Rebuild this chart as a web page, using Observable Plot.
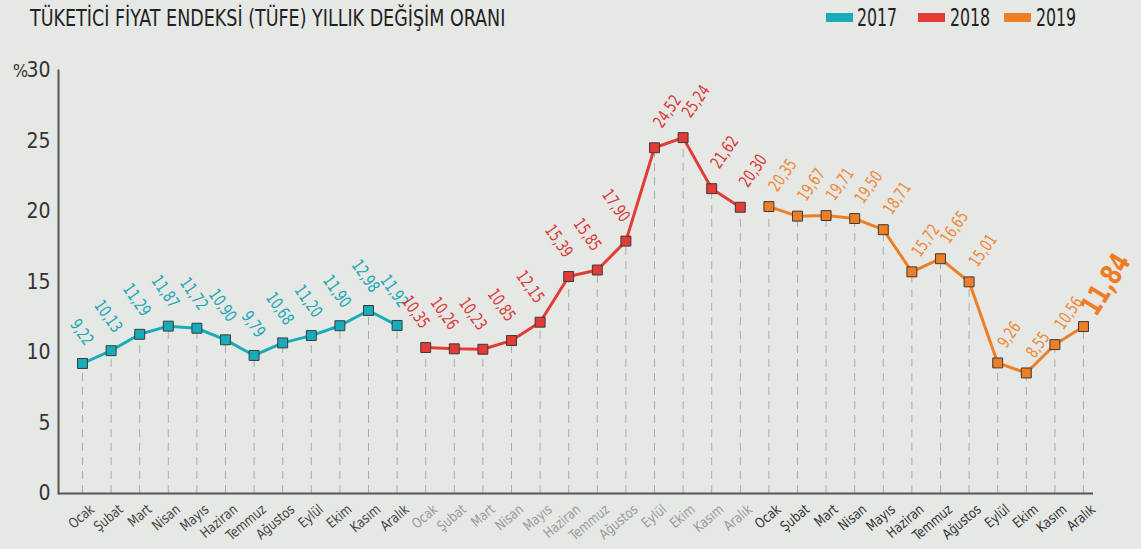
<!DOCTYPE html>
<html>
<head>
<meta charset="utf-8">
<script src="https://cdn.jsdelivr.net/npm/d3@7"></script>
<script src="https://cdn.jsdelivr.net/npm/@observablehq/plot@0.6"></script>
<style>
  html, body { margin: 0; padding: 0; background: #e6e8e6; }
  body { width: 1141px; height: 549px; overflow: hidden; font-family: "Liberation Sans Narrow", "DejaVu Sans Condensed", "Roboto", sans-serif; }
  #header { position: relative; height: 40px; }
  #title { position: absolute; left: 30px; top: 5px; font-size: 23px; color: #222; white-space: nowrap; transform-origin: 0 0; }
  .sw { position: absolute; top: 13px; width: 27px; height: 9px; }
  .lt { position: absolute; top: 3px; font-size: 25px; color: #222; white-space: nowrap; transform-origin: 0 0; }
  svg { display: block; }
</style>
</head>
<body>
<div id="header">
  <div id="title">TÜKETİCİ FİYAT ENDEKSİ (TÜFE) YILLIK DEĞİŞİM ORANI</div>
</div>
<div id="chart"></div>
<script>
const years = [2017, 2018, 2019];
const months = ["Ocak", "Şubat", "Mart", "Nisan", "Mayıs", "Haziran", "Temmuz", "Ağustos", "Eylül", "Ekim", "Kasım", "Aralık"];
const v2017 = [9.22, 10.13, 11.29, 11.87, 11.72, 10.90, 9.79, 10.68, 11.20, 11.90, 12.98, 11.92];
const v2018 = [10.35, 10.26, 10.23, 10.85, 12.15, 15.39, 15.85, 17.90, 24.52, 25.24, 21.62, 20.30];
const v2019 = [20.35, 19.67, 19.71, 19.50, 18.71, 15.72, 16.65, 15.01, 9.26, 8.55, 10.56, 11.84];
const yTicks = [0, 5, 10, 15, 20, 25, 30];

const lineColors = ["#1aabbb", "#e33b36", "#ee7f24"];
const labelColors = ["#20a6b5", "#db3a37", "#f0883a"];
const monthColors = ["#444", "#9a9a9a", "#333"];

const series = [v2017, v2018, v2019];
const rows = [];
series.forEach((vals, s) => vals.forEach((v, m) => rows.push({i: s * 12 + m, year: years[s], s, m, month: months[m], v})));
const fmt = v => v.toFixed(2).replace(".", ",");

// fit the title to the reference width
const title = document.getElementById("title");
title.style.transform = `scaleX(${475 / title.offsetWidth})`;

// legend
const header = document.getElementById("header");
const swLeft = [826, 918, 1004], txtLeft = [857, 950, 1036];
years.forEach((y, k) => {
  const sw = document.createElement("div");
  sw.className = "sw";
  sw.style.left = swLeft[k] + "px";
  sw.style.background = lineColors[k];
  header.appendChild(sw);
  const t = document.createElement("div");
  t.className = "lt";
  t.style.left = txtLeft[k] + "px";
  t.textContent = y;
  header.appendChild(t);
  t.style.transform = `scaleX(${40 / t.offsetWidth})`;
});

const font = "Liberation Sans Narrow, DejaVu Sans Condensed, Roboto, sans-serif";

const downLabels = rows.filter(d => d.s === 0 || (d.s === 1 && d.m < 8));
const up2018 = rows.filter(d => d.s === 1 && d.m >= 8);
const up2019 = rows.filter(d => d.s === 2 && d.m < 11);
const last = rows.filter(d => d.s === 2 && d.m === 11);

const textBase = {x: "i", y: "v", text: d => fmt(d.v), fontSize: 17, fontFamily: font};

const chart = Plot.plot({
  width: 1141,
  height: 509,
  marginLeft: 58,
  marginRight: 48,
  marginTop: 30,
  marginBottom: 56,
  style: {background: "transparent", fontFamily: font, overflow: "visible"},
  x: {type: "linear", domain: [0, 35], insetLeft: 24, insetRight: 10, axis: null},
  y: {domain: [0, 30], label: null},
  color: {domain: years, range: lineColors},
  marks: [
    Plot.ruleX(rows, {x: "i", y1: 0, y2: "v", stroke: "#aaaaaa", strokeWidth: 1, strokeDasharray: "8,6"}),
    Plot.axisY({ticks: yTicks, tickSize: 0, tickPadding: 8, fontSize: 21, fill: "#333", label: null}),
    Plot.text(["%"], {frameAnchor: "top-left", textAnchor: "middle", lineAnchor: "middle", dx: -38, dy: 1, fontSize: 18, fill: "#333"}),
    Plot.frame({anchor: "left", stroke: "#555", strokeWidth: 2}),
    Plot.ruleY([0], {stroke: "#555", strokeWidth: 2}),
    Plot.line(rows, {x: "i", y: "v", z: "year", stroke: "year", strokeWidth: 3}),
    Plot.dot(rows, {x: "i", y: "v", symbol: "square", r: 5.6, fill: "year", stroke: "#3a3a3a", strokeWidth: 1}),
    Plot.text(downLabels.filter(d => d.s === 0), {...textBase, rotate: 55, textAnchor: "end", dx: 7, dy: -20, fill: labelColors[0], className: "vlab"}),
    Plot.text(downLabels.filter(d => d.s === 1), {...textBase, rotate: 55, textAnchor: "end", dx: 0, dy: -21, fill: labelColors[1], className: "vlab"}),
    Plot.text(up2018, {...textBase, rotate: -55, textAnchor: "start", dx: 3, dy: -22, fill: labelColors[1], className: "vlab"}),
    Plot.text(up2019, {...textBase, rotate: -55, textAnchor: "start", dx: 4, dy: -17, fill: labelColors[2], className: "vlab"}),
    Plot.text(last, {...textBase, rotate: -58, textAnchor: "start", dx: 5, dy: -14, fontSize: 29, fontWeight: "bold", fill: "#ef7d1f", className: "vlab"}),
    ...[0, 1, 2].map(s => Plot.text(rows.filter(d => d.s === s), {x: "i", frameAnchor: "bottom", text: "month", rotate: -40, textAnchor: "end", lineAnchor: "middle", dx: 10, dy: 14, fontSize: 14, fill: monthColors[s], className: "mlab"}))
  ]
});
// condense the rotated labels along their reading direction
const condense = (sel, k) => d3.select(chart).selectAll(sel).each(function() {
  const t = this.getAttribute("transform");
  if (t && t.includes("rotate")) this.setAttribute("transform", t + ` scale(${k},1)`);
});
condense(".vlab text", 0.8);
condense(".mlab text", 0.9);
document.getElementById("chart").appendChild(chart);
</script>
</body>
</html>
